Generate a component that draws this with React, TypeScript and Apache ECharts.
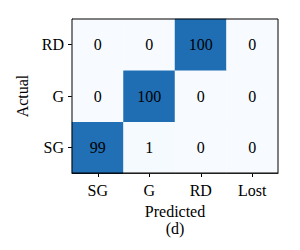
import React, { useEffect, useRef } from "react";
import * as echarts from "echarts";

const predicted = ["SG", "G", "RD", "Lost"];
const actual = ["SG", "G", "RD"];
const rowSG = [99, 1, 0, 0];
const rowG = [0, 100, 0, 0];
const rowRD = [0, 0, 100, 0];

export default function App() {
  const ref = useRef<HTMLDivElement>(null);
  useEffect(() => {
    if (!ref.current) return;
    const chart = echarts.init(ref.current, null, { renderer: "svg" });
    const rows = [rowSG, rowG, rowRD];
    const data: number[][] = [];
    rows.forEach((r, yi) => r.forEach((v, xi) => data.push([xi, yi, v])));
    const font = "Times New Roman, Liberation Serif, serif";
    chart.setOption({
      animation: false,
      backgroundColor: "#ffffff",
      textStyle: { fontFamily: font },
      grid: {
        left: 72,
        top: 19,
        width: 206,
        height: 154,
        show: true,
        borderColor: "#000",
        borderWidth: 1,
        backgroundColor: "transparent",
        z: 10,
      },
      xAxis: {
        type: "category",
        data: predicted,
        position: "bottom",
        name: "Predicted\n(d)",
        nameLocation: "middle",
        nameGap: 30,
        nameTextStyle: { color: "#000", fontFamily: font, fontSize: 16, lineHeight: 17, verticalAlign: "top" },
        axisLine: { show: true, lineStyle: { color: "#000", width: 1 } },
        axisTick: { show: true, alignWithLabel: true, length: 4, lineStyle: { color: "#000" } },
        axisLabel: { color: "#000", fontFamily: font, fontSize: 16, margin: 9 },
        splitArea: { show: false },
      },
      yAxis: {
        type: "category",
        data: actual,
        name: "Actual",
        nameLocation: "middle",
        nameGap: 40,
        nameTextStyle: { color: "#000", fontFamily: font, fontSize: 16 },
        axisLine: { show: true, lineStyle: { color: "#000", width: 1 } },
        axisTick: { show: true, alignWithLabel: true, length: 4, lineStyle: { color: "#000" } },
        axisLabel: { color: "#000", fontFamily: font, fontSize: 16, margin: 8 },
        splitArea: { show: false },
      },
      visualMap: {
        show: false,
        min: 0,
        max: 100,
        inRange: { color: ["#f7fbff", "#1f6eb4"] },
      },
      series: [
        {
          type: "heatmap",
          data,
          label: {
            show: true,
            color: "#000",
            fontFamily: font,
            fontSize: 16,
          },
          itemStyle: { borderWidth: 0 },
          emphasis: { disabled: true },
        },
      ],
    });
    return () => chart.dispose();
  }, []);
  return <div ref={ref} style={{ width: 300, height: 250, position: "absolute", left: 0, top: 0 }} />;
}
